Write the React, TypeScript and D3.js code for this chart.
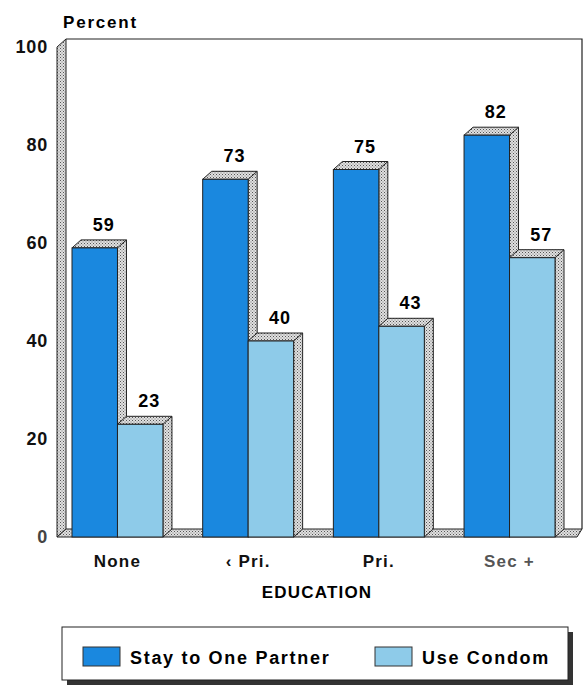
import React from "react";
import * as d3 from "d3";

// data
const categories = ["None", "\u2039 Pri.", "Pri.", "Sec +"];
const seriesNames = ["Stay to One Partner", "Use Condom"];
const stayOnePartner = [59, 73, 75, 82];
const useCondom = [23, 40, 43, 57];
const yTicks = [0, 20, 40, 60, 80, 100];

const colors = ["#1a88df", "#8ecbe9"];
const W = 584;
const H = 694;
const DX = 9; // depth offset of the 3d boxes
const DY = 8;
const FONT = "'Liberation Sans', Arial, Helvetica, sans-serif";

export default function App() {
  const y = d3.scaleLinear().domain([0, 100]).range([537, 47]);
  const x = d3.scaleBand().domain(categories).range([72, 555]).paddingInner(0.304).paddingOuter(0);
  const xs = d3.scaleBand().domain(seriesNames).range([0, x.bandwidth()]);
  const values = [stayOnePartner, useCondom];

  const wallX = 57;
  const y0 = y(0);
  const yTop = y(100);

  const bars: { cat: string; s: number; v: number }[] = [];
  categories.forEach((c, i) => {
    seriesNames.forEach((_, s) => bars.push({ cat: c, s, v: values[s][i] }));
  });

  return (
    <svg width={W} height={H} style={{ position: "absolute", left: 0, top: 0, background: "#fff" }}>
      <defs>
        <pattern id="dots" width="3" height="3" patternUnits="userSpaceOnUse">
          <rect width="3" height="3" fill="#e0e0e0" />
          <rect width="1" height="1" fill="#555" />
          <rect x="1.5" y="1.5" width="1" height="1" fill="#777" />
        </pattern>
      </defs>

      {/* back wall */}
      <path
        d={`M${wallX + DX},${yTop - DY}H${582}V${y0 - DY}`}
        fill="none"
        stroke="#222"
        strokeWidth={1.2}
      />
      {/* left wall */}
      <path
        d={`M${wallX},${yTop}L${wallX + DX},${yTop - DY}V${y0 - DY}L${wallX},${y0}Z`}
        fill="url(#dots)"
        stroke="#222"
        strokeWidth={1}
      />
      {/* floor */}
      <path
        d={`M${wallX},${y0}L${wallX + DX},${y0 - DY}H${582}L${582 - DX + 4},${y0}Z`}
        fill="url(#dots)"
        stroke="#222"
        strokeWidth={1}
      />

      {bars.map((b, i) => {
        const x0 = (x(b.cat) as number) + (xs(seriesNames[b.s]) as number);
        const w = xs.bandwidth();
        const yt = y(b.v);
        return (
          <g key={i}>
            <path
              d={`M${x0},${yt}L${x0 + DX},${yt - DY}H${x0 + w + DX}V${y0 - DY}L${x0 + w},${y0}V${yt}Z`}
              fill="url(#dots)"
              stroke="#222"
              strokeWidth={1}
            />
            <line x1={x0 + w} y1={yt} x2={x0 + w + DX} y2={yt - DY} stroke="#222" strokeWidth={1} />
            <rect x={x0} y={yt} width={w} height={y0 - yt} fill={colors[b.s]} stroke="#222" strokeWidth={1} />
            <text
              x={x0 + w / 2 + DX}
              y={yt - DY - 9}
              textAnchor="middle"
              fontFamily={FONT}
              fontWeight="bold"
              fontSize={18}
              letterSpacing={1}
            >
              {b.v}
            </text>
          </g>
        );
      })}

      {/* y axis labels */}
      {yTicks.map((t) => (
        <text
          key={t}
          x={48}
          y={y(t) + 6}
          textAnchor="end"
          fontFamily={FONT}
          fontWeight="bold"
          fontSize={18}
          letterSpacing={0.8}
          fill={t === 0 ? "#444" : "#111"}
        >
          {t}
        </text>
      ))}
      <text x={63} y={28} fontFamily={FONT} fontWeight="bold" fontSize={17} letterSpacing={1.8}>
        Percent
      </text>

      {/* category labels */}
      {categories.map((c) => (
        <text
          key={c}
          x={(x(c) as number) + x.bandwidth() / 2}
          y={567}
          textAnchor="middle"
          fontFamily={FONT}
          fontWeight="bold"
          fontSize={17}
          letterSpacing={1.2}
          fill={c === "Sec +" ? "#555" : "#111"}
        >
          {c}
        </text>
      ))}
      <text x={317} y={598} textAnchor="middle" fontFamily={FONT} fontWeight="bold" fontSize={17} letterSpacing={1.2}>
        EDUCATION
      </text>

      {/* legend */}
      <rect x={67} y={632} width={506} height={53} fill="#333" />
      <rect x={62} y={627} width={506} height={53} fill="#fff" stroke="#222" strokeWidth={1} />
      {seriesNames.map((s, i) => {
        const lx = i === 0 ? 83 : 375;
        return (
          <g key={s}>
            <rect x={lx} y={647} width={37} height={19} fill={colors[i]} stroke="#333" strokeWidth={1} />
            <text
              x={lx + 47}
              y={664}
              fontFamily={FONT}
              fontWeight="bold"
              fontSize={18}
              letterSpacing={1.7}
            >
              {s}
            </text>
          </g>
        );
      })}
    </svg>
  );
}
